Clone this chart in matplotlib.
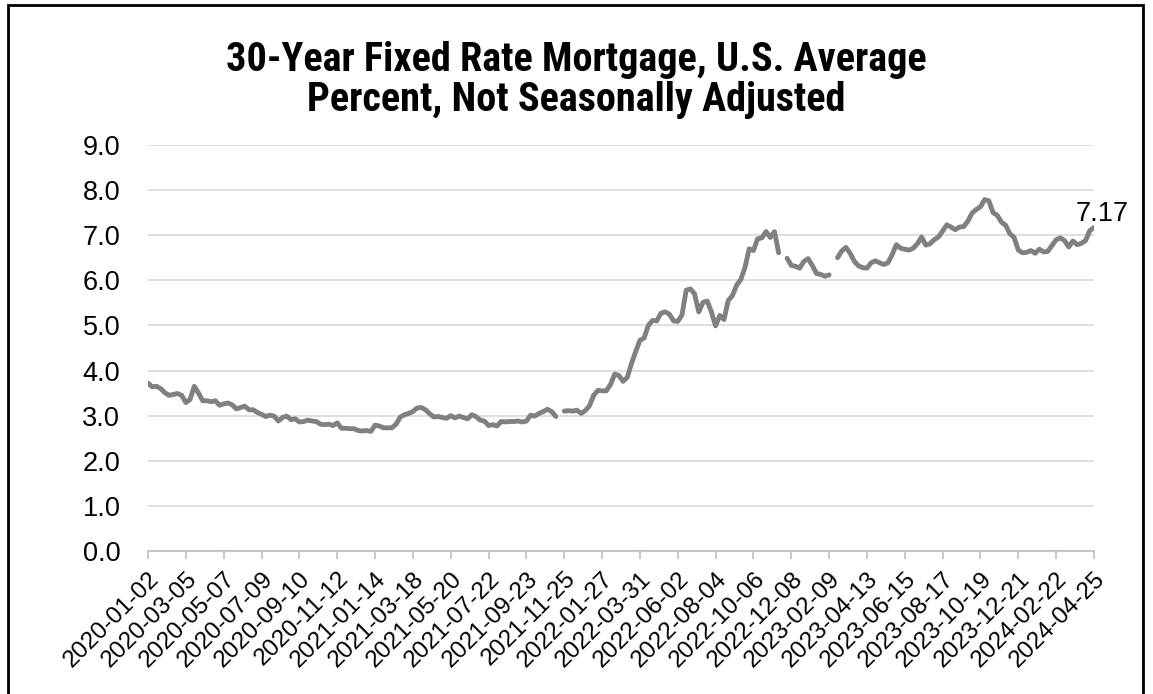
import numpy as np
import pandas as pd
import matplotlib
matplotlib.use("Agg")
import matplotlib.pyplot as plt
from matplotlib.patches import Rectangle

# Weekly 30-year fixed mortgage rate (%), Thursdays 2020-01-02 .. 2024-04-25
# NaN marks weeks with no value in the series
rate_2020 = [3.72, 3.64, 3.65, 3.60, 3.51, 3.45, 3.47, 3.49, 3.45, 3.29,
             3.36, 3.65, 3.50, 3.33, 3.33, 3.31, 3.33, 3.23, 3.26, 3.28,
             3.24, 3.15, 3.18, 3.21, 3.13, 3.13, 3.07, 3.03, 2.98, 3.01,
             2.99, 2.88, 2.96, 2.99, 2.91, 2.93, 2.86, 2.87, 2.90, 2.88,
             2.87, 2.81, 2.80, 2.81, 2.78, 2.84, 2.72, 2.72, 2.71, 2.71,
             2.67, 2.66, 2.67]
rate_2021 = [2.65, 2.79, 2.77, 2.73, 2.73, 2.73, 2.81, 2.97, 3.02, 3.05,
             3.09, 3.17, 3.18, 3.13, 3.04, 2.97, 2.98, 2.96, 2.94, 3.00,
             2.95, 2.99, 2.96, 2.93, 3.02, 2.98, 2.90, 2.88, 2.78, 2.80,
             2.77, 2.87, 2.86, 2.87, 2.87, 2.88, 2.86, 2.88, 3.01, 2.99,
             3.05, 3.09, 3.14, 3.09, 2.98, np.nan, 3.10, 3.11, 3.10, 3.12,
             3.05, 3.11]
rate_2022 = [3.22, 3.45, 3.56, 3.55, 3.55, 3.69, 3.92, 3.89, 3.76, 3.85,
             4.16, 4.42, 4.67, 4.72, 5.00, 5.11, 5.10, 5.27, 5.30, 5.25,
             5.10, 5.09, 5.23, 5.78, 5.81, 5.70, 5.30, 5.51, 5.54, 5.30,
             4.99, 5.22, 5.13, 5.55, 5.66, 5.89, 6.02, 6.29, 6.70, 6.66,
             6.92, 6.94, 7.08, 6.95, 7.08, 6.61, np.nan, 6.49, 6.33, 6.31,
             6.27, 6.42]
rate_2023 = [6.48, 6.33, 6.15, 6.13, 6.09, 6.12, np.nan, 6.50, 6.65, 6.73,
             6.60, 6.42, 6.32, 6.28, 6.27, 6.39, 6.43, 6.39, 6.35, 6.39,
             6.57, 6.79, 6.71, 6.69, 6.67, 6.71, 6.81, 6.96, 6.78, 6.81,
             6.90, 6.96, 7.09, 7.23, 7.18, 7.12, 7.18, 7.19, 7.31, 7.49,
             7.57, 7.63, 7.79, 7.76, 7.50, 7.44, 7.29, 7.22, 7.03, 6.95,
             6.67, 6.61]
rate_2024 = [6.62, 6.66, 6.60, 6.69, 6.63, 6.64, 6.77, 6.90, 6.94, 6.88,
             6.74, 6.87, 6.79, 6.82, 6.88, 7.10, 7.17]

rates = np.array(rate_2020 + rate_2021 + rate_2022 + rate_2023 + rate_2024)
dates = pd.date_range("2020-01-02", periods=len(rates), freq="7D")
tick_step = 9  # label every 9th week

plt.rcParams["font.family"] = ["Liberation Sans", "DejaVu Sans"]

fig = plt.figure(figsize=(11.53, 6.94), dpi=100)
ax = fig.add_axes([0.1284, 0.2061, 0.8204, 0.5850])

x = np.arange(len(rates))
ax.plot(x, rates, color="#808080", lw=3.5, solid_capstyle="round",
        solid_joinstyle="round", zorder=3)

ax.set_xlim(0, len(rates) - 1)
ax.set_ylim(0, 9)
ax.set_yticks(np.arange(0, 9.5, 1.0))
ax.set_yticklabels([f"{v:.1f}" for v in np.arange(0, 9.5, 1.0)], fontsize=19.5)
ax.grid(axis="y", color="#d9d9d9", lw=1.2)
ax.set_axisbelow(True)

ticks = x[::tick_step]
ax.set_xticks(ticks)
ax.set_xticklabels([dates[i].strftime("%Y-%m-%d") for i in ticks],
                   rotation=45, ha="right", va="top", rotation_mode="anchor",
                   fontsize=17.5)

for s in ["top", "right", "left"]:
    ax.spines[s].set_visible(False)
ax.spines["bottom"].set_color("#bfbfbf")
ax.spines["bottom"].set_linewidth(1.2)
ax.tick_params(axis="y", length=0, pad=20)
ax.tick_params(axis="x", length=6, width=1.2, color="#bfbfbf", pad=6)

# value label on the latest point
ax.annotate(f"{rates[-1]:.2f}", xy=(x[-1], rates[-1]), xytext=(6, 5),
            textcoords="offset points", ha="center", va="baseline",
            fontsize=19.5, annotation_clip=False)

title_font = ["Liberation Sans Narrow", "DejaVu Sans Condensed", "Roboto Condensed", "Liberation Sans"]
fig.text(0.5, 0.8977, "30-Year Fixed Rate Mortgage, U.S. Average", ha="center",
         va="baseline", fontsize=29, fontweight="bold", family=title_font)
fig.text(0.5, 0.840, "Percent, Not Seasonally Adjusted", ha="center",
         va="baseline", fontsize=29, fontweight="bold", family=title_font)

# chart frame
fig.add_artist(Rectangle((0.007, -0.01), 0.984, 1.003, transform=fig.transFigure,
                         fill=False, ec="black", lw=2))

fig.savefig("out.png", dpi=100)
